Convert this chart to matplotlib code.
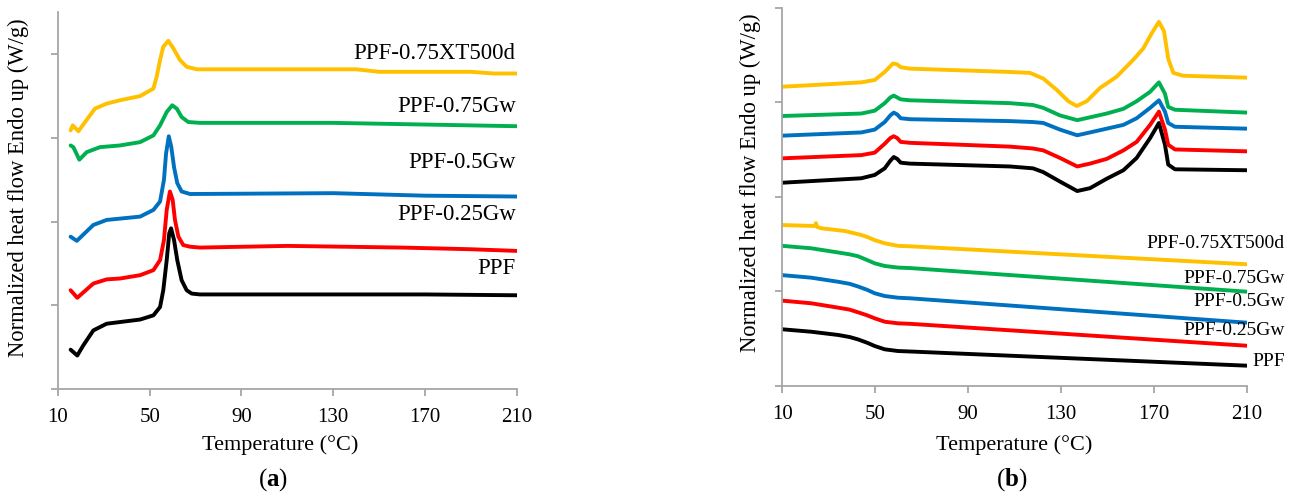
import matplotlib
matplotlib.use("Agg")
import matplotlib.pyplot as plt

plt.rcParams['font.family'] = ['Liberation Serif', 'DejaVu Serif']
plt.rcParams['mathtext.fontset'] = 'custom'
plt.rcParams['mathtext.rm'] = 'Liberation Serif'
plt.rcParams['mathtext.bf'] = 'Liberation Serif:bold'

# samples and their colours
names = ['PPF', 'PPF-0.25Gw', 'PPF-0.5Gw', 'PPF-0.75Gw', 'PPF-0.75XT500d']
colors = ['#000000', '#ff0000', '#0070c0', '#00b050', '#ffc000']

# ---- panel (a): temperature (C) and heat flow (in y-tick units)
a_ppf_t = [15.5, 18.4, 21.0, 25.4, 31.2, 37.0, 45.8, 51.6, 54.5, 55.9, 57.4, 58.5, 59.3, 60.6, 62.0, 63.9, 66.1, 68.3, 71.9, 130, 170, 210]
a_ppf_y = [0.47, 0.40, 0.52, 0.70, 0.78, 0.80, 0.83, 0.88, 0.98, 1.18, 1.54, 1.86, 1.92, 1.78, 1.54, 1.30, 1.18, 1.14, 1.13, 1.13, 1.13, 1.12]
a_025_t = [15.5, 18.4, 25.4, 31.2, 37.0, 45.8, 51.6, 54.5, 56.2, 57.4, 58.8, 60.0, 61.0, 62.5, 64.6, 67.6, 71.9, 110, 160, 190, 210]
a_025_y = [1.18, 1.09, 1.26, 1.31, 1.32, 1.36, 1.42, 1.54, 1.78, 2.14, 2.36, 2.26, 2.02, 1.82, 1.72, 1.70, 1.69, 1.71, 1.69, 1.67, 1.65]
a_05_t = [15.5, 18.2, 25.4, 31.2, 45.8, 51.6, 54.5, 56.2, 57.1, 58.3, 59.4, 60.6, 62.0, 63.9, 67.6, 130, 170, 210]
a_05_y = [1.82, 1.77, 1.96, 2.02, 2.06, 2.14, 2.24, 2.50, 2.81, 3.02, 2.89, 2.65, 2.46, 2.36, 2.33, 2.34, 2.31, 2.30]
a_075_t = [15.5, 16.7, 19.3, 22.5, 28.3, 37.0, 45.8, 51.6, 54.5, 57.4, 59.8, 61.8, 63.9, 66.8, 71.9, 130, 170, 210]
a_075_y = [2.91, 2.89, 2.74, 2.83, 2.89, 2.91, 2.95, 3.03, 3.15, 3.31, 3.39, 3.35, 3.25, 3.19, 3.18, 3.18, 3.16, 3.14]
a_xt_t = [15.5, 16.4, 18.9, 21.8, 26.1, 31.2, 37.0, 45.8, 51.6, 53.0, 54.5, 55.9, 58.1, 60.3, 63.2, 66.1, 70.5, 130, 140, 150, 190, 200, 210]
a_xt_y = [3.09, 3.15, 3.08, 3.19, 3.35, 3.41, 3.45, 3.50, 3.59, 3.73, 3.93, 4.09, 4.16, 4.07, 3.93, 3.85, 3.82, 3.82, 3.82, 3.79, 3.79, 3.77, 3.77]

# ---- panel (b): heating traces (upper group)
b_h_t = [10, 44, 49.8, 54.1, 56.5, 58, 59.5, 61, 65, 108, 118, 122.4, 129.6, 137, 142.5, 149.7, 156.9, 162.6, 168.4, 172.2, 174.8, 176.2, 179.1, 210]
b_h_ppf = [2.148, 2.195, 2.23, 2.30, 2.38, 2.42, 2.40, 2.36, 2.35, 2.32, 2.30, 2.26, 2.16, 2.06, 2.09, 2.19, 2.28, 2.41, 2.62, 2.78, 2.55, 2.34, 2.29, 2.28]
b_h_025 = [2.406, 2.44, 2.466, 2.56, 2.62, 2.64, 2.62, 2.58, 2.57, 2.53, 2.51, 2.49, 2.41, 2.32, 2.35, 2.40, 2.49, 2.58, 2.76, 2.90, 2.71, 2.55, 2.50, 2.48]
b_h_05 = [2.646, 2.68, 2.71, 2.79, 2.86, 2.89, 2.87, 2.83, 2.82, 2.80, 2.79, 2.78, 2.71, 2.65, 2.68, 2.72, 2.76, 2.83, 2.94, 3.02, 2.90, 2.78, 2.74, 2.72]
b_h_075 = [2.854, 2.88, 2.91, 2.99, 3.05, 3.07, 3.05, 3.03, 3.02, 2.99, 2.97, 2.94, 2.86, 2.81, 2.84, 2.88, 2.93, 3.01, 3.11, 3.21, 3.09, 2.95, 2.92, 2.89]
b_h_xt_t = [10, 29.7, 44, 49.8, 54.1, 57.7, 59.5, 61, 65, 108, 116.7, 122.4, 128.2, 133.2, 136.8, 141.1, 146.8, 154, 161.2, 165.5, 169.1, 172.2, 174.4, 176.2, 178.4, 182.7, 210]
b_h_xt = [3.164, 3.19, 3.21, 3.235, 3.32, 3.41, 3.40, 3.37, 3.355, 3.32, 3.31, 3.25, 3.13, 3.01, 2.96, 3.01, 3.15, 3.27, 3.45, 3.57, 3.73, 3.85, 3.75, 3.46, 3.31, 3.28, 3.26]

# ---- panel (b): cooling traces (lower group)
b_c_t = [10, 22.5, 34, 39, 42.6, 46.5, 49.8, 54.1, 59.8, 65, 210]
b_c_ppf = [0.597, 0.571, 0.537, 0.515, 0.49, 0.455, 0.42, 0.385, 0.367, 0.362, 0.212]
b_c_025 = [0.90, 0.872, 0.826, 0.805, 0.777, 0.745, 0.713, 0.677, 0.66, 0.655, 0.423]
b_c_05 = [1.17, 1.143, 1.10, 1.078, 1.05, 1.015, 0.978, 0.949, 0.931, 0.925, 0.667]
b_c_075 = [1.48, 1.454, 1.41, 1.39, 1.37, 1.33, 1.295, 1.267, 1.25, 1.245, 0.995]
b_c_xt_t = [10, 24, 24.5, 25, 26.8, 36.9, 44, 47, 49.8, 54.1, 59.8, 65, 210]
b_c_xt = [1.70, 1.69, 1.72, 1.68, 1.666, 1.637, 1.595, 1.57, 1.54, 1.507, 1.48, 1.475, 1.285]

xticks = [10, 50, 90, 130, 170, 210]
axis_gray = '#a6a6a6'
lw = 2.8
W, H = 1296, 498

fig = plt.figure(figsize=(12.96, 4.98), dpi=100)
ax1 = fig.add_axes([58 / W, 1 - 389 / H, 458.7 / W, 376.6 / H])
ax2 = fig.add_axes([782.3 / W, 1 - 385.7 / H, 464.4 / W, 378 / H])


def style(ax, ymax):
    ax.set_xlim(10, 210)
    ax.set_ylim(0, ymax)
    ax.set_xticks(xticks)
    ax.set_yticks(range(0, int(ymax) + 1))
    ax.set_yticklabels([])
    for s in ['top', 'right']:
        ax.spines[s].set_visible(False)
    for s in ['left', 'bottom']:
        ax.spines[s].set_color(axis_gray)
        ax.spines[s].set_linewidth(1.3)
    ax.tick_params(direction='out', length=5, width=1.3, color=axis_gray,
                   labelsize=15, pad=9)


def line(ax, t, y, c):
    ax.plot(t, y, color=c, lw=lw, solid_capstyle='round', solid_joinstyle='round')


# panel (a)
a_t = [a_ppf_t, a_025_t, a_05_t, a_075_t, a_xt_t]
a_y = [a_ppf_y, a_025_y, a_05_y, a_075_y, a_xt_y]
for t, y, c in zip(a_t, a_y, colors):
    line(ax1, t, y, c)
style(ax1, 4.5)
a_label_y = [1.44, 2.08, 2.71, 3.37, 4.01]
for n, ly in zip(names, a_label_y):
    ax1.text(209.5, ly, n, ha='right', va='center', fontsize=16.5)

# panel (b)
for y, c in zip([b_h_ppf, b_h_025, b_h_05, b_h_075], colors[:4]):
    line(ax2, b_h_t, y, c)
line(ax2, b_h_xt_t, b_h_xt, colors[4])
for y, c in zip([b_c_ppf, b_c_025, b_c_05, b_c_075], colors[:4]):
    line(ax2, b_c_t, y, c)
line(ax2, b_c_xt_t, b_c_xt, colors[4])
style(ax2, 4)
b_label_y = [0.254, 0.589, 0.889, 1.137, 1.507]
for n, ly in zip(names, b_label_y):
    ax2.text(226.5, ly, n, ha='right', va='center', fontsize=14, clip_on=False)

# axis titles and panel letters
ylab = 'Normalized heat flow Endo up (W/g)'
fig.text(18.8 / W, 1 - 187.3 / H, ylab, rotation=90, ha='center', va='center', fontsize=16.3)
fig.text(750.6 / W, 1 - 183 / H, ylab, rotation=90, ha='center', va='center', fontsize=16.3)
fig.text(280 / W, 1 - 445 / H, 'Temperature (°C)', ha='center', va='center', fontsize=16)
fig.text(1014 / W, 1 - 445 / H, 'Temperature (°C)', ha='center', va='center', fontsize=16)
fig.text(273 / W, 1 - 480 / H, '($\\mathbf{a}$)', ha='center', va='center', fontsize=18)
fig.text(1012 / W, 1 - 480 / H, '($\\mathbf{b}$)', ha='center', va='center', fontsize=18)

fig.savefig('out.png', dpi=100)
